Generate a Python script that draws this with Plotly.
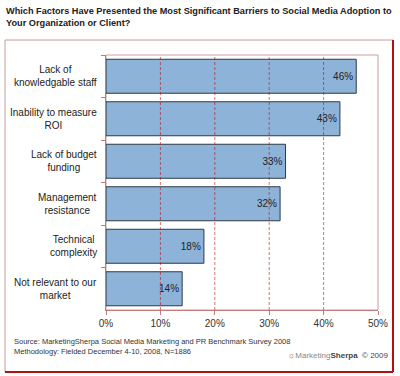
import plotly.graph_objects as go

categories = ["Lack of<br>knowledgable staff", "Inability to measure<br>ROI", "Lack of budget<br>funding",
              "Management<br>resistance", "Technical<br>complexity", "Not relevant to our<br>market"]
values = [46, 43, 33, 32, 18, 14]
value_labels = ["46%", "43%", "33%", "32%", "18%", "14%"]
x_ticks = [0, 10, 20, 30, 40, 50]
x_tick_labels = ["0%", "10%", "20%", "30%", "40%", "50%"]

W, H = 400, 376
L, R, T, B = 106, 378, 55, 310

def px(x):
    return (x - L) / (R - L)

def py(y):
    return (B - y) / (B - T)

fig = go.Figure(go.Bar(
    x=values, y=categories, orientation="h",
    marker=dict(color="#8db3d9", line=dict(color="#2f3a44", width=1)),
    text=value_labels, textposition="inside", insidetextanchor="end",
    textfont=dict(family="Liberation Sans, Arial", size=10, color="#222222"),
    width=0.8, hoverinfo="skip"
))

fig.update_layout(
    width=W, height=H, margin=dict(l=L, r=W - R, t=T, b=H - B),
    paper_bgcolor="white", plot_bgcolor="white", showlegend=False,
    font=dict(family="Liberation Sans, Arial", size=10, color="#333333"),
    xaxis=dict(range=[0, 50], tickvals=x_ticks, ticktext=x_tick_labels, showgrid=False,
               zeroline=False, showline=True, linecolor="#c47a7a", linewidth=1,
               ticks="outside", ticklen=4, tickcolor="#c47a7a",
               tickfont=dict(size=10, color="#333333"), fixedrange=True),
    yaxis=dict(autorange="reversed", showticklabels=False, showline=True, linecolor="#c47a7a",
               linewidth=1, ticks="outside", ticklen=4, tickcolor="#c47a7a", tickson="boundaries",
               showgrid=False, fixedrange=True),
)

shapes = []
# plot area border
shapes.append(dict(type="rect", xref="paper", yref="paper", x0=0, x1=1, y0=0, y1=1,
                   line=dict(color="#c9a0a0", width=1), layer="below"))
# dashed gridlines over bars
for t in x_ticks[1:-1]:
    shapes.append(dict(type="line", xref="x", yref="paper", x0=t, x1=t, y0=0, y1=1,
                       line=dict(color="#c00000", width=1, dash="3px,2px"), opacity=0.55, layer="above"))
# outer frame
shapes.append(dict(type="rect", xref="paper", yref="paper", x0=px(5), x1=px(393), y0=py(372), y1=py(40),
                   line=dict(color="#c79a9a", width=1)))
shapes.append(dict(type="line", xref="paper", yref="paper", x0=px(393), x1=px(393), y0=py(372), y1=py(40),
                   line=dict(color="#b01010", width=2)))
shapes.append(dict(type="line", xref="paper", yref="paper", x0=px(5), x1=px(393), y0=py(372), y1=py(372),
                   line=dict(color="#b01010", width=2)))
fig.update_layout(shapes=shapes)

ann = []
ann.append(dict(xref="paper", yref="paper", x=px(4), y=py(4), xanchor="left", yanchor="top",
                text="<b>Which Factors Have Presented the Most Significant Barriers to Social Media Adoption to<br>Your Organization or Client?</b>",
                align="left", showarrow=False,
                font=dict(family="Liberation Sans, Arial", size=9.2, color="#222222")))
for i, c in enumerate(categories):
    ann.append(dict(xref="paper", yref="y", x=px(99), y=c, xanchor="right", yanchor="middle",
                    text=c, align="center", showarrow=False,
                    font=dict(size=10, color="#222222")))
ann.append(dict(xref="paper", yref="paper", x=px(12), y=py(346), xanchor="left", yanchor="middle",
                text="Source: MarketingSherpa Social Media Marketing and PR Benchmark Survey 2008<br>Methodology: Fielded December 4-10, 2008, N=1886",
                align="left", showarrow=False, font=dict(size=7.5, color="#333333")))
ann.append(dict(xref="paper", yref="paper", x=px(391), y=py(355), xanchor="right", yanchor="middle",
                text="<span style='color:#d03020'>☼</span><span style='color:#888888'>Marketing</span><b>Sherpa</b>  © 2009",
                showarrow=False, font=dict(size=8, color="#444444")))
fig.update_layout(annotations=ann)

fig.write_html("out.html", config={"displayModeBar": False},
               post_script="document.body.style.margin='0';document.body.style.padding='0';")
